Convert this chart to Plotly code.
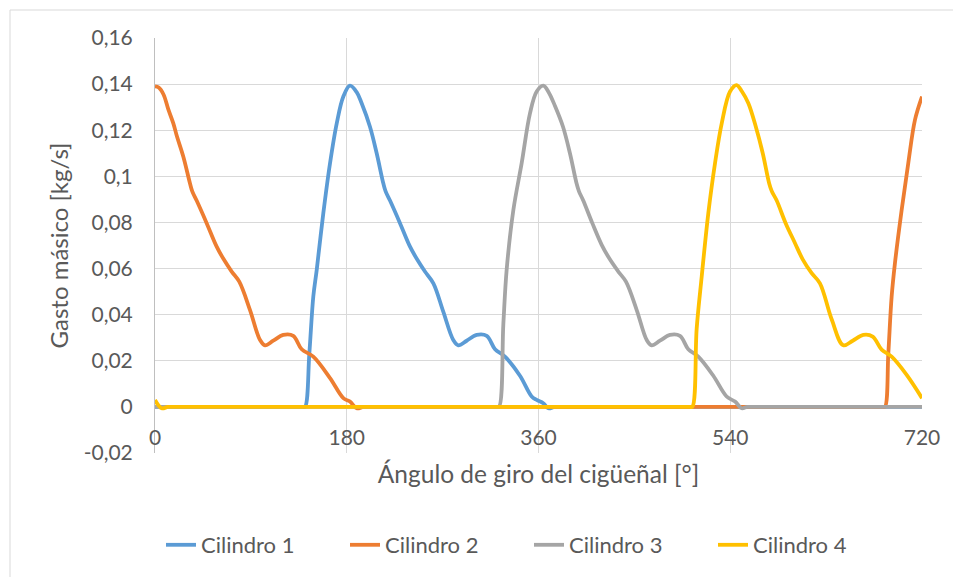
import plotly.graph_objects as go

# ---- data ----
cil1_x = [0, 138.5, 140.8, 144.9, 148.6, 151.8, 158, 164.3, 170.6, 176.8, 183, 189.3, 194, 201.8, 208.1,
          214.3, 216.5, 220.6, 230, 239.4, 246, 253.4, 261.3, 270.6, 280, 284.7, 292.6, 302, 311.4, 319.2,
          328.5, 342.6, 353.6, 358.3, 364.5, 369.2, 375, 380, 720]
cil1_y = [0, 0, 0, 0.0233, 0.0478, 0.0594, 0.084, 0.1057, 0.123, 0.1346, 0.1393, 0.1365, 0.1317, 0.1215, 0.110,
          0.097, 0.0935, 0.0895, 0.0797, 0.0695, 0.064, 0.0587, 0.0536, 0.0413, 0.029, 0.0267, 0.0287, 0.0312, 0.0308,
          0.0250, 0.0218, 0.0135, 0.0045, 0.003, 0.0016, -0.0006, 0, 0, 0]

cil2_x = [0, 3.5, 8, 12.5, 17.2, 20.5, 26.6, 32.8, 35, 39.1, 48.5, 57.9, 64.5, 72, 79.1, 89.2, 98.6, 103.3,
          111, 120.4, 129.8, 137.7, 148.6, 164.3, 176.8, 183, 189.3, 195.5, 200, 683, 685.2, 688.4, 691.5,
          694.6, 700.9, 707.1, 713.4, 720]
cil2_y = [0.139, 0.1385, 0.1355, 0.129, 0.123, 0.1175, 0.1085, 0.097, 0.0935, 0.0895, 0.0797, 0.0695, 0.064,
          0.0587, 0.0543, 0.042, 0.029, 0.0267, 0.0287, 0.0312, 0.0308, 0.0250, 0.0218, 0.0125, 0.0038, 0.0023,
          -0.0006, 0, 0, 0, 0, 0.0233, 0.0478, 0.0623, 0.0854, 0.1057, 0.1245, 0.1346]

cil3_x = [0, 320.5, 322.9, 327, 330.1, 336.4, 344.2, 352, 358.3, 364.5, 369.5, 375.5, 383, 389.5, 395.7,
          398, 402, 410.5, 419.3, 427, 434.9, 442.1, 452.2, 461.6, 466.2, 474, 483.4, 492.8, 500.6, 510,
          524.1, 536.6, 544.5, 550.7, 556, 561, 720]
cil3_y = [0, 0, 0, 0.036, 0.0594, 0.0854, 0.1057, 0.1273, 0.1368, 0.1393, 0.1365, 0.1305, 0.1215, 0.110, 0.097,
          0.0935, 0.0895, 0.0797, 0.0703, 0.064, 0.0587, 0.0543, 0.042, 0.029, 0.0267, 0.0287, 0.0312, 0.0308,
          0.0250, 0.0218, 0.0135, 0.0045, 0.0023, -0.0006, 0, 0, 0]

cil4_x = [0, 6.3, 12, 17, 502, 504.4, 508.5, 513.2, 519.4, 525.7, 532, 539.8, 546, 551, 557, 564, 570.5, 576.5,
          579, 583.6, 592, 600.8, 608, 616.4, 624.2, 635.2, 646.1, 655, 664.9, 673.7, 682.1, 691.5, 705.6, 720]
cil4_y = [0.003, -0.0006, 0, 0, 0, 0, 0.034, 0.0565, 0.084, 0.1057, 0.123, 0.1368, 0.1396, 0.1368, 0.1317, 0.1215,
          0.110, 0.097, 0.0935, 0.0895, 0.0797, 0.071, 0.064, 0.058, 0.0536, 0.038, 0.0267, 0.0287, 0.0312, 0.0305,
          0.0248, 0.0218, 0.0139, 0.0038]

series_names = ["Cilindro 1", "Cilindro 2", "Cilindro 3", "Cilindro 4"]
series_colors = ["#5B9BD5", "#ED7D31", "#A5A5A5", "#FFC000"]

x_ticks = [0, 180, 360, 540, 720]
y_ticks = [-0.02, 0, 0.02, 0.04, 0.06, 0.08, 0.1, 0.12, 0.14, 0.16]
y_ticktext = ["-0,02", "0", "0,02", "0,04", "0,06", "0,08", "0,1", "0,12", "0,14", "0,16"]

FONT = "Lato"
TXT = "#595959"

fig = go.Figure()
for xs, ys, name, col in zip([cil1_x, cil2_x, cil3_x, cil4_x], [cil1_y, cil2_y, cil3_y, cil4_y],
                             series_names, series_colors):
    fig.add_trace(go.Scatter(x=xs, y=ys, mode="lines", name=name,
                             line=dict(color=col, width=3.8, shape="spline", smoothing=1.0)))

# page body has an 8px margin: work in figure coordinates = screen - 8
W, H = 953, 569
ml, mt = 147, 30
pw, ph = 767, 415
mr, mb = W - ml - pw, H - mt - ph

fig.update_layout(
    width=W, height=H,
    margin=dict(l=ml, r=mr, t=mt, b=mb, autoexpand=False),
    paper_bgcolor="white", plot_bgcolor="white",
    font=dict(family=FONT, color=TXT, size=21),
    showlegend=True,
    legend=dict(orientation="h", x=(521 - ml) / pw, y=(mt + ph - 537) / ph,
                xanchor="center", yanchor="middle",
                font=dict(family=FONT, size=22, color=TXT),
                entrywidth=139, itemwidth=30, bgcolor="rgba(0,0,0,0)"),
    xaxis=dict(range=[0, 720], tickvals=x_ticks, ticktext=[str(v) for v in x_ticks],
               showgrid=True, gridcolor="#D9D9D9", gridwidth=1, zeroline=False, showline=False,
               ticks="", ticklabelstandoff=-30,
               tickfont=dict(family=FONT, size=21, color=TXT),
               title=dict(text="Ángulo de giro del cigüeñal [°]", font=dict(family=FONT, size=24.5, color=TXT),
                          standoff=17)),
    yaxis=dict(range=[-0.02, 0.16], tickvals=y_ticks, ticktext=y_ticktext,
               showgrid=True, gridcolor="#D9D9D9", gridwidth=1,
               zeroline=True, zerolinecolor="#BFBFBF", zerolinewidth=1,
               showline=True, linecolor="#BFBFBF", linewidth=1,
               ticks="", ticklabelstandoff=17,
               tickfont=dict(family=FONT, size=21, color=TXT),
               title=dict(text="Gasto másico [kg/s]", font=dict(family=FONT, size=24, color=TXT), standoff=8)),
)

# outer chart-area border (extends beyond the picture on right and bottom)
fig.add_shape(type="rect", xref="paper", yref="paper",
              x0=(2 - ml) / pw, x1=(W + 5 - ml) / pw,
              y0=(mt + ph - (H + 5)) / ph, y1=(mt + ph - 2) / ph,
              line=dict(color="#D9D9D9", width=1), fillcolor="rgba(0,0,0,0)", layer="below")

fig.write_html("out.html")
